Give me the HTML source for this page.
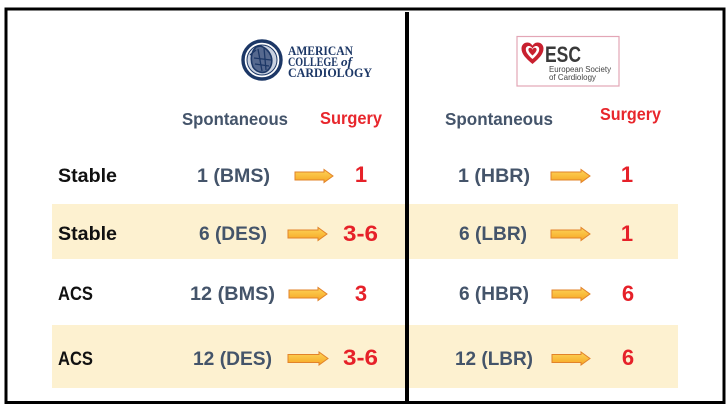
<!DOCTYPE html>
<html>
<head>
<meta charset="utf-8">
<style>
html,body{margin:0;padding:0;background:#fff;}
svg{display:block;}
.lab{font-family:"Liberation Sans",sans-serif;font-weight:bold;font-size:19px;fill:#111;}
.gry{font-family:"Liberation Sans",sans-serif;font-weight:bold;font-size:19.5px;fill:#44546a;}
.hdr{font-family:"Liberation Sans",sans-serif;font-weight:bold;font-size:17.5px;fill:#44546a;}
.hdrr{font-family:"Liberation Sans",sans-serif;font-weight:bold;font-size:17.5px;fill:#e8262c;}
.red{font-family:"Liberation Sans",sans-serif;font-weight:bold;font-size:22px;fill:#e62129;}
.acc{font-family:"Liberation Serif",serif;font-weight:bold;font-size:12.5px;fill:#1c3766;}
</style>
</head>
<body>
<svg width="728" height="410" viewBox="0 0 728 410" xmlns="http://www.w3.org/2000/svg">
<defs>
<linearGradient id="ag" x1="0" y1="0" x2="0" y2="1">
<stop offset="0" stop-color="#fdd55a"/>
<stop offset="1" stop-color="#f6a623"/>
</linearGradient>
</defs>
<rect x="0" y="0" width="728" height="410" fill="#fff"/>

<!-- bands -->
<rect x="52" y="204" width="626" height="55" fill="#fdf1d0"/>
<rect x="52" y="325" width="626" height="63" fill="#fdf1d0"/>

<!-- outer border -->
<rect x="6" y="9" width="718" height="393.5" fill="none" stroke="#000" stroke-width="3"/>
<!-- divider -->
<rect x="405" y="12" width="4" height="390" fill="#000"/>

<!-- ACC logo -->
<circle cx="262" cy="60" r="19" fill="#fff" stroke="#1c3766" stroke-width="3.4"/>
<circle cx="262" cy="60" r="15" fill="#c9d1e0" stroke="#1c3766" stroke-width="1"/>
<path d="M256,47 C251,52 250,60 253,67 C256,72 263,74 267,71 C271,68 273,62 271,56 C269,51 265,47 260,46 Z" fill="#56698f" stroke="#1c3766" stroke-width="1.6"/>
<path d="M258,49 L262,71 M264,48 L266,70 M254,58 L271,60 M255,64 L269,66 M250,55 L256,50" stroke="#1c3766" stroke-width="1.3"/>
<text class="acc" x="288" y="55" textLength="65" lengthAdjust="spacingAndGlyphs">AMERICAN</text>
<text class="acc" x="288" y="66" textLength="50" lengthAdjust="spacingAndGlyphs">COLLEGE</text>
<text class="acc" x="341" y="66" style="font-style:italic" textLength="11" lengthAdjust="spacingAndGlyphs">of</text>
<text class="acc" x="288" y="77" textLength="84" lengthAdjust="spacingAndGlyphs">CARDIOLOGY</text>

<!-- ESC logo -->
<rect x="517" y="36.5" width="102" height="49.5" fill="#fff" stroke="#e3a6b6" stroke-width="1.2"/>
<path d="M532.5,64 C525.5,58 521.5,54 521.5,48.5 C521.5,44.8 524.2,42.5 527.5,42.5 C529.8,42.5 531.5,44 532.5,45.6 C533.5,44 535.2,42.5 537.5,42.5 C540.8,42.5 543.5,44.8 543.5,48.5 C543.5,54 539.5,58 532.5,64 Z" fill="#c8202f"/>
<path d="M532.5,59 C528.3,55.3 525.8,52.3 525.8,49.2 C525.8,47.2 527.2,46 528.8,46 C530.3,46 531.7,47 532.5,48.7 C533.3,47 534.7,46 536.2,46 C537.8,46 539.2,47.2 539.2,49.2 C539.2,52.3 536.7,55.3 532.5,59 Z" fill="#fff"/>
<path d="M532.5,55.5 C529.8,53 528.4,51.2 528.4,49.6 C528.4,48.4 529.3,47.8 530.2,47.8 C531.3,47.8 532,48.6 532.5,49.8 C533,48.6 533.7,47.8 534.8,47.8 C535.7,47.8 536.6,48.4 536.6,49.6 C536.6,51.2 535.2,53 532.5,55.5 Z" fill="#c8202f"/>
<text x="545" y="62" font-family="Liberation Sans, sans-serif" font-weight="bold" font-size="22" fill="#3a3a3a" textLength="36" lengthAdjust="spacingAndGlyphs">ESC</text>
<text x="549" y="72" font-family="Liberation Sans, sans-serif" font-size="8.6" fill="#444" textLength="62" lengthAdjust="spacingAndGlyphs">European Society</text>
<text x="549" y="80" font-family="Liberation Sans, sans-serif" font-size="8.6" fill="#444" textLength="47" lengthAdjust="spacingAndGlyphs">of Cardiology</text>

<!-- headers -->
<text class="hdr" x="182" y="125" textLength="106" lengthAdjust="spacingAndGlyphs">Spontaneous</text>
<text class="hdrr" x="320" y="124" textLength="62" lengthAdjust="spacingAndGlyphs">Surgery</text>
<text class="hdr" x="445" y="125" textLength="108" lengthAdjust="spacingAndGlyphs">Spontaneous</text>
<text class="hdrr" x="600" y="120" textLength="61" lengthAdjust="spacingAndGlyphs">Surgery</text>

<!-- row labels -->
<text class="lab" x="58" y="182" textLength="59" lengthAdjust="spacingAndGlyphs">Stable</text>
<text class="lab" x="58" y="240" textLength="59" lengthAdjust="spacingAndGlyphs">Stable</text>
<text class="lab" x="58" y="300" textLength="35" lengthAdjust="spacingAndGlyphs">ACS</text>
<text class="lab" x="58" y="365" textLength="35" lengthAdjust="spacingAndGlyphs">ACS</text>

<!-- left spontaneous -->
<text class="gry" x="197" y="182" textLength="73" lengthAdjust="spacingAndGlyphs">1 (BMS)</text>
<text class="gry" x="199" y="240" textLength="68" lengthAdjust="spacingAndGlyphs">6 (DES)</text>
<text class="gry" x="190" y="300" textLength="85" lengthAdjust="spacingAndGlyphs">12 (BMS)</text>
<text class="gry" x="193" y="365" textLength="79" lengthAdjust="spacingAndGlyphs">12 (DES)</text>

<!-- right spontaneous -->
<text class="gry" x="458" y="182" textLength="72" lengthAdjust="spacingAndGlyphs">1 (HBR)</text>
<text class="gry" x="459" y="240" textLength="68" lengthAdjust="spacingAndGlyphs">6 (LBR)</text>
<text class="gry" x="459" y="300" textLength="70" lengthAdjust="spacingAndGlyphs">6 (HBR)</text>
<text class="gry" x="455" y="365" textLength="78" lengthAdjust="spacingAndGlyphs">12 (LBR)</text>

<!-- arrows -->
<g fill="url(#ag)" stroke="#e2832a" stroke-width="1" stroke-linejoin="miter">
<path d="M295,172 L324,172 L324,169.5 L333,176 L324,182.5 L324,180 L295,180 Z"/>
<path d="M288,230 L318,230 L318,227.5 L327,234 L318,240.5 L318,238 L288,238 Z"/>
<path d="M289,290 L318,290 L318,287.5 L327,294 L318,300.5 L318,298 L289,298 Z"/>
<path d="M288,354.5 L319,354.5 L319,352 L328,358.5 L319,365 L319,362.5 L288,362.5 Z"/>
<path d="M551,172 L581,172 L581,169.5 L590,176 L581,182.5 L581,180 L551,180 Z"/>
<path d="M551,230 L581,230 L581,227.5 L590,234 L581,240.5 L581,238 L551,238 Z"/>
<path d="M552,290 L581,290 L581,287.5 L590,294 L581,300.5 L581,298 L552,298 Z"/>
<path d="M552,354.5 L581,354.5 L581,352 L590,358.5 L581,365 L581,362.5 L552,362.5 Z"/>
</g>

<!-- red values -->
<text class="red" x="361" y="182" text-anchor="middle">1</text>
<text class="red" x="343" y="241" textLength="35" lengthAdjust="spacingAndGlyphs">3-6</text>
<text class="red" x="361" y="301" text-anchor="middle">3</text>
<text class="red" x="343" y="365" textLength="35" lengthAdjust="spacingAndGlyphs">3-6</text>

<text class="red" x="627" y="182" text-anchor="middle">1</text>
<text class="red" x="627" y="241" text-anchor="middle">1</text>
<text class="red" x="628" y="301" text-anchor="middle">6</text>
<text class="red" x="628" y="365" text-anchor="middle">6</text>
</svg>
</body>
</html>
